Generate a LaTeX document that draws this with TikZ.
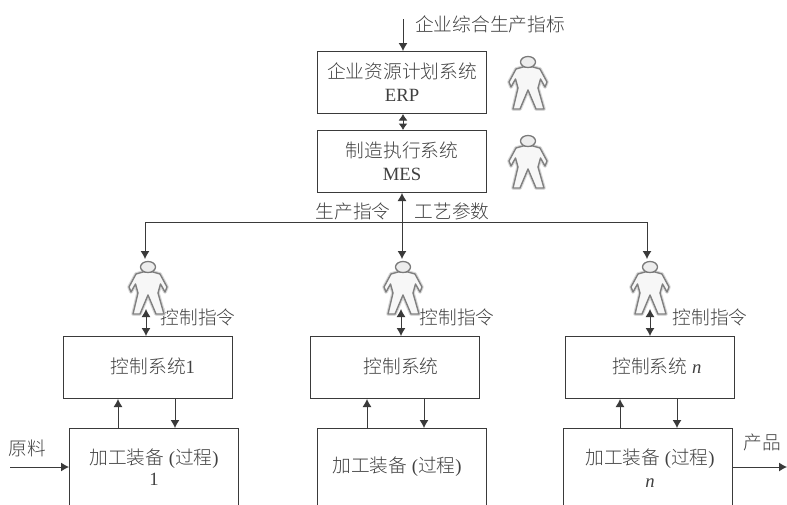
\documentclass[tikz,border=0pt]{standalone}
\usepackage{fontspec}
\setmainfont{Liberation Serif}
\newfontfamily\cjk{Noto Sans CJK SC}[UprightFont={* Light}]
\usetikzlibrary{arrows.meta}
\definecolor{ink}{HTML}{3A3A3A}
\definecolor{txt}{HTML}{404040}
\tikzset{
  x=1pt,y=-1pt,
  every node/.style={text=txt,font=\fontsize{18.7}{23}\selectfont,align=center,inner sep=0pt},
  sysbox/.style={draw=ink,line width=1pt,minimum width=169pt,minimum height=62pt,anchor=north west},
  rawbox/.style={draw=ink,line width=1pt,minimum width=169pt,minimum height=100pt,anchor=north west},
  cn/.style={draw=ink,line width=1pt,-{Latex[length=8pt,width=9pt]}},
  dn/.style={draw=ink,line width=1pt,{Latex[length=8pt,width=9pt]}-{Latex[length=8pt,width=9pt]}},
  dnshort/.style={draw=ink,line width=1pt,{Latex[length=6.5pt,width=9pt]}-{Latex[length=6.5pt,width=9pt]}},
  pl/.style={draw=ink,line width=1pt},
  person/.pic={
    \def\bodyoutline{(-5,-15) -- (-12,-13) -- (-19,0) -- (-17,5) -- (-12.5,-3) -- (-10,6) -- (-15,27) -- (-8,27) -- (0,8) -- (8,27) -- (16,27) -- (10,6) -- (12.5,-3) -- (17,5) -- (19,0) -- (12,-13) -- (5,-15) -- cycle}
    \path[draw=black!15,line width=3.6pt,line join=round] \bodyoutline;
    \path[fill=black!3,draw=black!50,line width=1.4pt,line join=round] \bodyoutline;
    \path[fill=black!7,draw=black!52,line width=1.3pt] (0,-20) ellipse [x radius=7.5pt,y radius=5.5pt];
  }
}
\begin{document}
\begin{tikzpicture}
\clip (0,0) rectangle (787,504);
\node[sysbox] (erp) at (317,51) {};
\node (erpt) at (402,82.5) {{\cjk 企业资源计划系统}\\ERP};
\node[sysbox] (mes) at (317,130) {};
\node (mest) at (402,161.5) {{\cjk 制造执行系统}\\MES};
\node[sysbox] (c1) at (63,336) {};
\node (c1t) at (153,366) {{\cjk 控制系统}1};
\node[sysbox] (c2) at (310,336) {};
\node (c2t) at (401,366) {\cjk 控制系统};
\node[sysbox] (c3) at (565,336) {};
\node (c3t) at (657,366) {{\cjk 控制系统} \textit{n}};
\node[rawbox] (e1) at (69,428) {};
\node[rawbox] (e2) at (317,428) {};
\node[rawbox] (e3) at (563,428) {};
\node (e1t) at (154,467) {{\cjk 加工装备} ({\cjk 过程})\\[-2pt]1};
\node (e2t) at (397,467) {{\cjk 加工装备} ({\cjk 过程})};
\node (e3t) at (650,468) {{\cjk 加工装备} ({\cjk 过程})\\\textit{n}};
\node[anchor=west] (top) at (415,24) {\cjk 企业综合生产指标};
\node (l1) at (353,211) {\cjk 生产指令};
\node (l2) at (452,211) {\cjk 工艺参数};
\node (k1) at (198,317) {\cjk 控制指令};
\node (k2) at (457,317) {\cjk 控制指令};
\node (k3) at (710,317) {\cjk 控制指令};
\node (raw) at (27.5,448) {\cjk 原料};
\node (prod) at (762,442) {\cjk 产品};
\pic at (528,82) {person};
\pic at (528,161) {person};
\pic at (148,287) {person};
\pic at (403,287) {person};
\pic at (650,287) {person};
\coordinate (topin) at (403,19);
\coordinate (mid) at (403,121);
\draw[cn] (topin) -- (topin |- erp.north);
\draw[dnshort] (mid |- erp.south) -- (mid |- mes.north);
\coordinate (busl) at (145,222);
\coordinate (busm) at (402,222);
\coordinate (busr) at (647,222);
\coordinate (p1) at (145,259);
\coordinate (p2) at (402,259);
\coordinate (p3) at (647,259);
\draw[pl] (busl) -- (busr);
\draw[cn] (busl) -- (p1);
\draw[cn] (busr) -- (p3);
\draw[cn] (busm) -- (p2);
\draw[cn] (busm) -- (busm |- mes.south);
\coordinate (d1) at (146,309);
\coordinate (d2) at (401,309);
\coordinate (d3) at (650,309);
\draw[dn] (d1) -- (d1 |- c1.north);
\draw[dn] (d2) -- (d2 |- c2.north);
\draw[dn] (d3) -- (d3 |- c3.north);
\coordinate (u1) at (118,410); \coordinate (v1) at (175,410);
\coordinate (u2) at (367,410); \coordinate (v2) at (424,410);
\coordinate (u3) at (620,410); \coordinate (v3) at (677,410);
\draw[cn] (u1 |- e1.north) -- (u1 |- c1.south);
\draw[cn] (v1 |- c1.south) -- (v1 |- e1.north);
\draw[cn] (u2 |- e2.north) -- (u2 |- c2.south);
\draw[cn] (v2 |- c2.south) -- (v2 |- e2.north);
\draw[cn] (u3 |- e3.north) -- (u3 |- c3.south);
\draw[cn] (v3 |- c3.south) -- (v3 |- e3.north);
\coordinate (rawin) at (10,467);
\coordinate (prodout) at (787,467);
\draw[cn] (rawin) -- (rawin -| e1.west);
\draw[cn] (prodout -| e3.east) -- (prodout);
\end{tikzpicture}
\end{document}
